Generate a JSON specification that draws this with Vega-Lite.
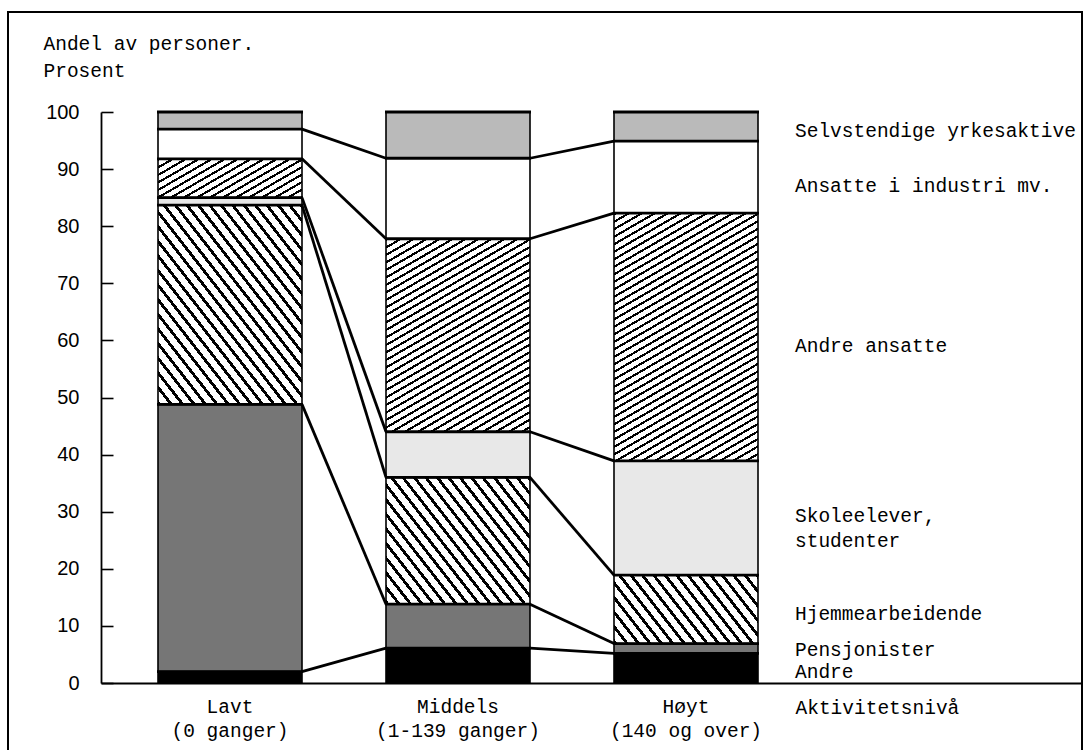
{
  "$schema": "https://vega.github.io/schema/vega-lite/v6.json",
  "width": 1074,
  "height": 740,
  "autosize": "none",
  "padding": {"left": 8, "top": 12, "right": 2, "bottom": 0},
  "background": "white",
  "config": {"view": {"stroke": "black", "strokeWidth": 2}},
  "params": [
    {"name": "st", "value": [
      {"offset":0,"color":"#000"},{"offset":0.0065,"color":"#000"},{"offset":0.0065,"color":"#fff"},{"offset":0.02,"color":"#fff"},
      {"offset":0.02,"color":"#000"},{"offset":0.0265,"color":"#000"},{"offset":0.0265,"color":"#fff"},{"offset":0.04,"color":"#fff"},
      {"offset":0.04,"color":"#000"},{"offset":0.0465,"color":"#000"},{"offset":0.0465,"color":"#fff"},{"offset":0.06,"color":"#fff"},
      {"offset":0.06,"color":"#000"},{"offset":0.0665,"color":"#000"},{"offset":0.0665,"color":"#fff"},{"offset":0.08,"color":"#fff"},
      {"offset":0.08,"color":"#000"},{"offset":0.0865,"color":"#000"},{"offset":0.0865,"color":"#fff"},{"offset":0.1,"color":"#fff"},
      {"offset":0.1,"color":"#000"},{"offset":0.1065,"color":"#000"},{"offset":0.1065,"color":"#fff"},{"offset":0.12,"color":"#fff"},
      {"offset":0.12,"color":"#000"},{"offset":0.1265,"color":"#000"},{"offset":0.1265,"color":"#fff"},{"offset":0.14,"color":"#fff"},
      {"offset":0.14,"color":"#000"},{"offset":0.1465,"color":"#000"},{"offset":0.1465,"color":"#fff"},{"offset":0.16,"color":"#fff"},
      {"offset":0.16,"color":"#000"},{"offset":0.1665,"color":"#000"},{"offset":0.1665,"color":"#fff"},{"offset":0.18,"color":"#fff"},
      {"offset":0.18,"color":"#000"},{"offset":0.1865,"color":"#000"},{"offset":0.1865,"color":"#fff"},{"offset":0.2,"color":"#fff"},
      {"offset":0.2,"color":"#000"},{"offset":0.2065,"color":"#000"},{"offset":0.2065,"color":"#fff"},{"offset":0.22,"color":"#fff"},
      {"offset":0.22,"color":"#000"},{"offset":0.2265,"color":"#000"},{"offset":0.2265,"color":"#fff"},{"offset":0.24,"color":"#fff"},
      {"offset":0.24,"color":"#000"},{"offset":0.2465,"color":"#000"},{"offset":0.2465,"color":"#fff"},{"offset":0.26,"color":"#fff"},
      {"offset":0.26,"color":"#000"},{"offset":0.2665,"color":"#000"},{"offset":0.2665,"color":"#fff"},{"offset":0.28,"color":"#fff"},
      {"offset":0.28,"color":"#000"},{"offset":0.2865,"color":"#000"},{"offset":0.2865,"color":"#fff"},{"offset":0.3,"color":"#fff"},
      {"offset":0.3,"color":"#000"},{"offset":0.3065,"color":"#000"},{"offset":0.3065,"color":"#fff"},{"offset":0.32,"color":"#fff"},
      {"offset":0.32,"color":"#000"},{"offset":0.3265,"color":"#000"},{"offset":0.3265,"color":"#fff"},{"offset":0.34,"color":"#fff"},
      {"offset":0.34,"color":"#000"},{"offset":0.3465,"color":"#000"},{"offset":0.3465,"color":"#fff"},{"offset":0.36,"color":"#fff"},
      {"offset":0.36,"color":"#000"},{"offset":0.3665,"color":"#000"},{"offset":0.3665,"color":"#fff"},{"offset":0.38,"color":"#fff"},
      {"offset":0.38,"color":"#000"},{"offset":0.3865,"color":"#000"},{"offset":0.3865,"color":"#fff"},{"offset":0.4,"color":"#fff"},
      {"offset":0.4,"color":"#000"},{"offset":0.4065,"color":"#000"},{"offset":0.4065,"color":"#fff"},{"offset":0.42,"color":"#fff"},
      {"offset":0.42,"color":"#000"},{"offset":0.4265,"color":"#000"},{"offset":0.4265,"color":"#fff"},{"offset":0.44,"color":"#fff"},
      {"offset":0.44,"color":"#000"},{"offset":0.4465,"color":"#000"},{"offset":0.4465,"color":"#fff"},{"offset":0.46,"color":"#fff"},
      {"offset":0.46,"color":"#000"},{"offset":0.4665,"color":"#000"},{"offset":0.4665,"color":"#fff"},{"offset":0.48,"color":"#fff"},
      {"offset":0.48,"color":"#000"},{"offset":0.4865,"color":"#000"},{"offset":0.4865,"color":"#fff"},{"offset":0.5,"color":"#fff"},
      {"offset":0.5,"color":"#000"},{"offset":0.5065,"color":"#000"},{"offset":0.5065,"color":"#fff"},{"offset":0.52,"color":"#fff"},
      {"offset":0.52,"color":"#000"},{"offset":0.5265,"color":"#000"},{"offset":0.5265,"color":"#fff"},{"offset":0.54,"color":"#fff"},
      {"offset":0.54,"color":"#000"},{"offset":0.5465,"color":"#000"},{"offset":0.5465,"color":"#fff"},{"offset":0.56,"color":"#fff"},
      {"offset":0.56,"color":"#000"},{"offset":0.5665,"color":"#000"},{"offset":0.5665,"color":"#fff"},{"offset":0.58,"color":"#fff"},
      {"offset":0.58,"color":"#000"},{"offset":0.5865,"color":"#000"},{"offset":0.5865,"color":"#fff"},{"offset":0.6,"color":"#fff"},
      {"offset":0.6,"color":"#000"},{"offset":0.6065,"color":"#000"},{"offset":0.6065,"color":"#fff"},{"offset":0.62,"color":"#fff"},
      {"offset":0.62,"color":"#000"},{"offset":0.6265,"color":"#000"},{"offset":0.6265,"color":"#fff"},{"offset":0.64,"color":"#fff"},
      {"offset":0.64,"color":"#000"},{"offset":0.6465,"color":"#000"},{"offset":0.6465,"color":"#fff"},{"offset":0.66,"color":"#fff"},
      {"offset":0.66,"color":"#000"},{"offset":0.6665,"color":"#000"},{"offset":0.6665,"color":"#fff"},{"offset":0.68,"color":"#fff"},
      {"offset":0.68,"color":"#000"},{"offset":0.6865,"color":"#000"},{"offset":0.6865,"color":"#fff"},{"offset":0.7,"color":"#fff"},
      {"offset":0.7,"color":"#000"},{"offset":0.7065,"color":"#000"},{"offset":0.7065,"color":"#fff"},{"offset":0.72,"color":"#fff"},
      {"offset":0.72,"color":"#000"},{"offset":0.7265,"color":"#000"},{"offset":0.7265,"color":"#fff"},{"offset":0.74,"color":"#fff"},
      {"offset":0.74,"color":"#000"},{"offset":0.7465,"color":"#000"},{"offset":0.7465,"color":"#fff"},{"offset":0.76,"color":"#fff"},
      {"offset":0.76,"color":"#000"},{"offset":0.7665,"color":"#000"},{"offset":0.7665,"color":"#fff"},{"offset":0.78,"color":"#fff"},
      {"offset":0.78,"color":"#000"},{"offset":0.7865,"color":"#000"},{"offset":0.7865,"color":"#fff"},{"offset":0.8,"color":"#fff"},
      {"offset":0.8,"color":"#000"},{"offset":0.8065,"color":"#000"},{"offset":0.8065,"color":"#fff"},{"offset":0.82,"color":"#fff"},
      {"offset":0.82,"color":"#000"},{"offset":0.8265,"color":"#000"},{"offset":0.8265,"color":"#fff"},{"offset":0.84,"color":"#fff"},
      {"offset":0.84,"color":"#000"},{"offset":0.8465,"color":"#000"},{"offset":0.8465,"color":"#fff"},{"offset":0.86,"color":"#fff"},
      {"offset":0.86,"color":"#000"},{"offset":0.8665,"color":"#000"},{"offset":0.8665,"color":"#fff"},{"offset":0.88,"color":"#fff"},
      {"offset":0.88,"color":"#000"},{"offset":0.8865,"color":"#000"},{"offset":0.8865,"color":"#fff"},{"offset":0.9,"color":"#fff"},
      {"offset":0.9,"color":"#000"},{"offset":0.9065,"color":"#000"},{"offset":0.9065,"color":"#fff"},{"offset":0.92,"color":"#fff"},
      {"offset":0.92,"color":"#000"},{"offset":0.9265,"color":"#000"},{"offset":0.9265,"color":"#fff"},{"offset":0.94,"color":"#fff"},
      {"offset":0.94,"color":"#000"},{"offset":0.9465,"color":"#000"},{"offset":0.9465,"color":"#fff"},{"offset":0.96,"color":"#fff"},
      {"offset":0.96,"color":"#000"},{"offset":0.9665,"color":"#000"},{"offset":0.9665,"color":"#fff"},{"offset":0.98,"color":"#fff"},
      {"offset":0.98,"color":"#000"},{"offset":0.9865,"color":"#000"},{"offset":0.9865,"color":"#fff"},{"offset":1,"color":"#fff"}
    ]}
  ],
  "datasets": {
    "seg": [
      {"kat": "Lavt (0 ganger)", "k": 1, "gruppe": "Andre", "g": 1, "andel": 2.0},
      {"kat": "Lavt (0 ganger)", "k": 1, "gruppe": "Pensjonister", "g": 2, "andel": 46.8},
      {"kat": "Lavt (0 ganger)", "k": 1, "gruppe": "Hjemmearbeidende", "g": 3, "andel": 34.9},
      {"kat": "Lavt (0 ganger)", "k": 1, "gruppe": "Skoleelever, studenter", "g": 4, "andel": 1.3},
      {"kat": "Lavt (0 ganger)", "k": 1, "gruppe": "Andre ansatte", "g": 5, "andel": 6.8},
      {"kat": "Lavt (0 ganger)", "k": 1, "gruppe": "Ansatte i industri mv.", "g": 6, "andel": 5.2},
      {"kat": "Lavt (0 ganger)", "k": 1, "gruppe": "Selvstendige yrkesaktive", "g": 7, "andel": 3.0},
      {"kat": "Middels (1-139 ganger)", "k": 2, "gruppe": "Andre", "g": 1, "andel": 6.1},
      {"kat": "Middels (1-139 ganger)", "k": 2, "gruppe": "Pensjonister", "g": 2, "andel": 7.7},
      {"kat": "Middels (1-139 ganger)", "k": 2, "gruppe": "Hjemmearbeidende", "g": 3, "andel": 22.2},
      {"kat": "Middels (1-139 ganger)", "k": 2, "gruppe": "Skoleelever, studenter", "g": 4, "andel": 8.0},
      {"kat": "Middels (1-139 ganger)", "k": 2, "gruppe": "Andre ansatte", "g": 5, "andel": 33.8},
      {"kat": "Middels (1-139 ganger)", "k": 2, "gruppe": "Ansatte i industri mv.", "g": 6, "andel": 14.1},
      {"kat": "Middels (1-139 ganger)", "k": 2, "gruppe": "Selvstendige yrkesaktive", "g": 7, "andel": 8.1},
      {"kat": "Høyt (140 og over)", "k": 3, "gruppe": "Andre", "g": 1, "andel": 5.2},
      {"kat": "Høyt (140 og over)", "k": 3, "gruppe": "Pensjonister", "g": 2, "andel": 1.7},
      {"kat": "Høyt (140 og over)", "k": 3, "gruppe": "Hjemmearbeidende", "g": 3, "andel": 12.0},
      {"kat": "Høyt (140 og over)", "k": 3, "gruppe": "Skoleelever, studenter", "g": 4, "andel": 20.0},
      {"kat": "Høyt (140 og over)", "k": 3, "gruppe": "Andre ansatte", "g": 5, "andel": 43.4},
      {"kat": "Høyt (140 og over)", "k": 3, "gruppe": "Ansatte i industri mv.", "g": 6, "andel": 12.6},
      {"kat": "Høyt (140 og over)", "k": 3, "gruppe": "Selvstendige yrkesaktive", "g": 7, "andel": 5.1}
    ],
    "lab": [
      {"tekst": "Selvstendige yrkesaktive", "niva": 95.6},
      {"tekst": "Ansatte i industri mv.", "niva": 86.0},
      {"tekst": "Andre ansatte", "niva": 58.0},
      {"tekst": "Skoleelever,", "niva": 28.2},
      {"tekst": "studenter", "niva": 23.8},
      {"tekst": "Hjemmearbeidende", "niva": 11.0},
      {"tekst": "Pensjonister", "niva": 4.75},
      {"tekst": "Andre", "niva": 0.85}
    ]
  },
  "layer": [
    {
      "data": {"name": "seg"},
      "transform": [
        {"stack": "andel", "groupby": ["kat"], "sort": [{"field": "g", "order": "ascending"}], "as": ["y0", "y1"]}
      ],
      "mark": {
        "type": "bar",
        "stroke": "black",
        "strokeWidth": 1.6,
        "fill": {"expr": "datum.g==1 ? '#000' : datum.g==2 ? '#767676' : datum.g==4 ? '#e8e8e8' : datum.g==6 ? '#fff' : datum.g==7 ? '#bababa' : datum.g==3 ? {gradient:'linear', x1:0, y1:1, x2:(datum.k==1?1.8279:datum.k==2?2.6915:3.4842), y2:(datum.k==1?-0.9768:datum.k==2?-0.8518:-0.2952), stops:st} : {gradient:'linear', x1:0, y1:0, x2:(datum.k==1?3.7055:datum.k==2?0.7065:0.4567), y2:(datum.k==1?1.7308:datum.k==2?1.6401:1.3612), stops:st}"}
      },
      "encoding": {
        "x": {
          "field": "kat",
          "type": "nominal",
          "sort": ["Lavt (0 ganger)", "Middels (1-139 ganger)", "Høyt (140 og over)"],
          "scale": {
            "domain": ["Lavt (0 ganger)", "Middels (1-139 ganger)", "Høyt (140 og over)"],
            "range": [93, 1074],
            "paddingInner": 0.36842,
            "paddingOuter": 0.83553,
            "align": 0.14961,
            "round": false
          },
          "axis": {
            "orient": "bottom",
            "offset": -69,
            "ticks": false,
            "domain": true,
            "domainColor": "black",
            "domainWidth": 2,
            "labelAngle": 0,
            "labelExpr": "[split(datum.label, ' (')[0], '(' + split(datum.label, ' (')[1]]",
            "labelFont": "Liberation Mono",
            "labelFontSize": 19.5,
            "labelColor": "black",
            "labelBaseline": "top",
            "labelPadding": 14.6,
            "labelLineHeight": 24,
            "title": "Aktivitetsnivå",
            "titleX": 787,
            "titleY": 30,
            "titleAlign": "left",
            "titleBaseline": "alphabetic",
            "titleFont": "Liberation Mono",
            "titleFontSize": 19.5,
            "titleFontWeight": "normal",
            "titleColor": "black"
          }
        },
        "y": {
          "field": "y0",
          "type": "quantitative",
          "scale": {"domain": [0, 100], "range": [671, 100], "nice": false, "zero": true},
          "axis": {
            "orient": "left",
            "offset": -93,
            "values": [0, 10, 20, 30, 40, 50, 60, 70, 80, 90, 100],
            "grid": false,
            "tickSize": -12,
            "tickWidth": 1.6,
            "tickColor": "black",
            "domainColor": "black",
            "domainWidth": 1.8,
            "labelFont": "Liberation Sans",
            "labelFontSize": 20,
            "labelColor": "black",
            "labelPadding": 34,
            "title": ["Andel av personer.", "Prosent"],
            "titleAngle": 0,
            "titleAlign": "left",
            "titleBaseline": "top",
            "titleX": -58,
            "titleY": 22.6,
            "titleLineHeight": 27,
            "titleFont": "Liberation Mono",
            "titleFontSize": 19.5,
            "titleFontWeight": "normal",
            "titleColor": "black"
          }
        },
        "y2": {"field": "y1"}
      }
    },
    {
      "data": {"name": "seg"},
      "transform": [
        {"stack": "andel", "groupby": ["kat"], "sort": [{"field": "g", "order": "ascending"}], "as": ["y0", "y1"]}
      ],
      "mark": {"type": "tick", "orient": "horizontal", "thickness": 2.8, "size": 146, "color": "black", "opacity": 1},
      "encoding": {
        "x": {"field": "kat", "type": "nominal"},
        "y": {"field": "y1", "type": "quantitative"}
      }
    },
    {
      "data": {"name": "seg"},
      "transform": [
        {"stack": "andel", "groupby": ["kat"], "sort": [{"field": "g", "order": "ascending"}], "as": ["y0", "y1"]},
        {"window": [{"op": "lead", "field": "y1", "as": "neste"}, {"op": "lead", "field": "kat", "as": "nkat"}], "groupby": ["gruppe"], "sort": [{"field": "k", "order": "ascending"}]},
        {"filter": "datum.neste != null && datum.g < 7"}
      ],
      "mark": {"type": "rule", "strokeWidth": 2.8, "color": "black"},
      "encoding": {
        "x": {"field": "kat", "type": "nominal", "bandPosition": 1},
        "x2": {"field": "nkat", "bandPosition": 0},
        "y": {"field": "y1", "type": "quantitative"},
        "y2": {"field": "neste"}
      }
    },
    {
      "data": {"name": "lab"},
      "mark": {"type": "text", "align": "left", "baseline": "alphabetic", "dx": 109, "font": "Liberation Mono", "fontSize": 19.5, "color": "black"},
      "encoding": {
        "x": {"datum": "Høyt (140 og over)", "type": "nominal"},
        "y": {"field": "niva", "type": "quantitative"},
        "text": {"field": "tekst"}
      }
    }
  ]
}
